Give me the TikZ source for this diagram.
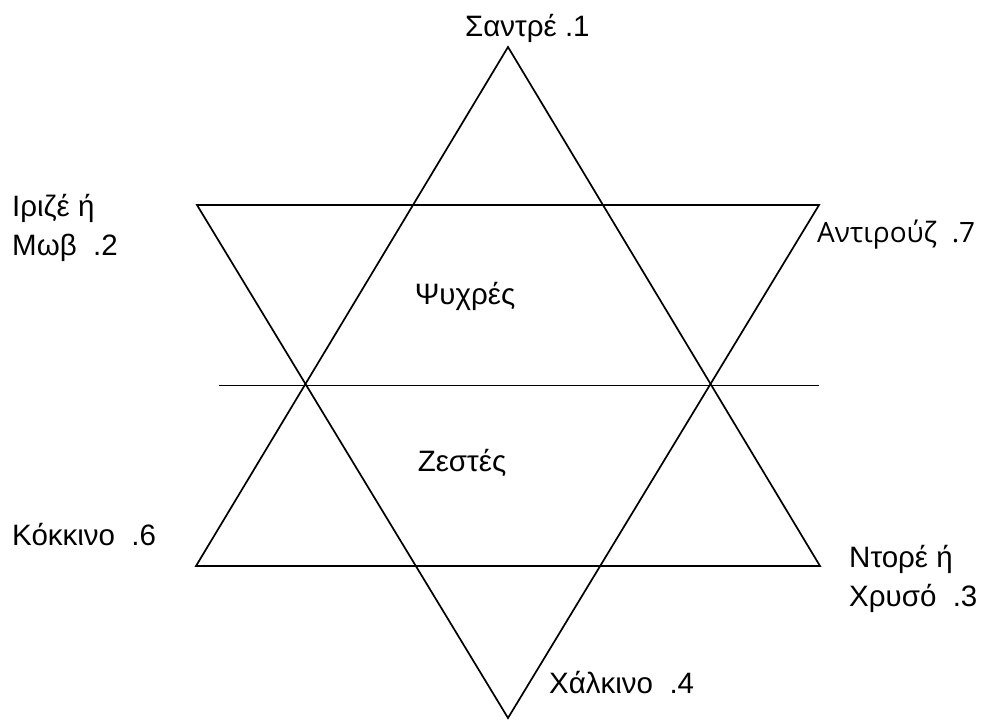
\documentclass[tikz,border=0pt]{standalone}
\usepackage{fontspec}
\setmainfont{Liberation Sans}
\newfontfamily\altfont{Open Sans}
\begin{document}
\begin{tikzpicture}[x=1pt,y=-1pt,
  lbl/.style={anchor=base west,inner sep=0pt,font=\fontsize{29.5}{39}\selectfont,align=left},
  edge/.style={line width=1.7pt,line join=miter}]
\useasboundingbox (0,0) rectangle (981,721);
% vertices
\coordinate (A) at (508,47);
\coordinate (BL) at (196,566);
\coordinate (BR) at (820,566);
\coordinate (TL) at (197,205);
\coordinate (TR) at (819,205);
\coordinate (B) at (508,718);
\coordinate (HL) at (219,385.5);
\coordinate (HR) at (819,385.5);
\draw[edge] (A) -- (BR) -- (BL) -- cycle;
\draw[edge] (TL) -- (TR) -- (B) -- cycle;
\draw[edge] (HL) -- (HR);
% labels
\node[lbl] (l1) at (465,36) {Σαντρέ .1};
\node[lbl,anchor=north west] (l2) at (12,194) {Ιριζέ ή\\Μωβ\ \ .2};
\node[lbl,font=\altfont\fontsize{28}{36}\selectfont] (l7) at (817,242) {Αντιρούζ\ \ .7};
\node[lbl,anchor=center] (cold) at (465,296) {Ψυχρές};
\node[lbl,anchor=center] (warm) at (462,463) {Ζεστές};
\node[lbl] (l6) at (12,545) {Κόκκινο\ \ .6};
\node[lbl,anchor=north west] (l3) at (849,545) {Ντορέ ή\\Χρυσό\ \ .3};
\node[lbl] (l4) at (549,693) {Χάλκινο\ \ .4};
\end{tikzpicture}
\end{document}
